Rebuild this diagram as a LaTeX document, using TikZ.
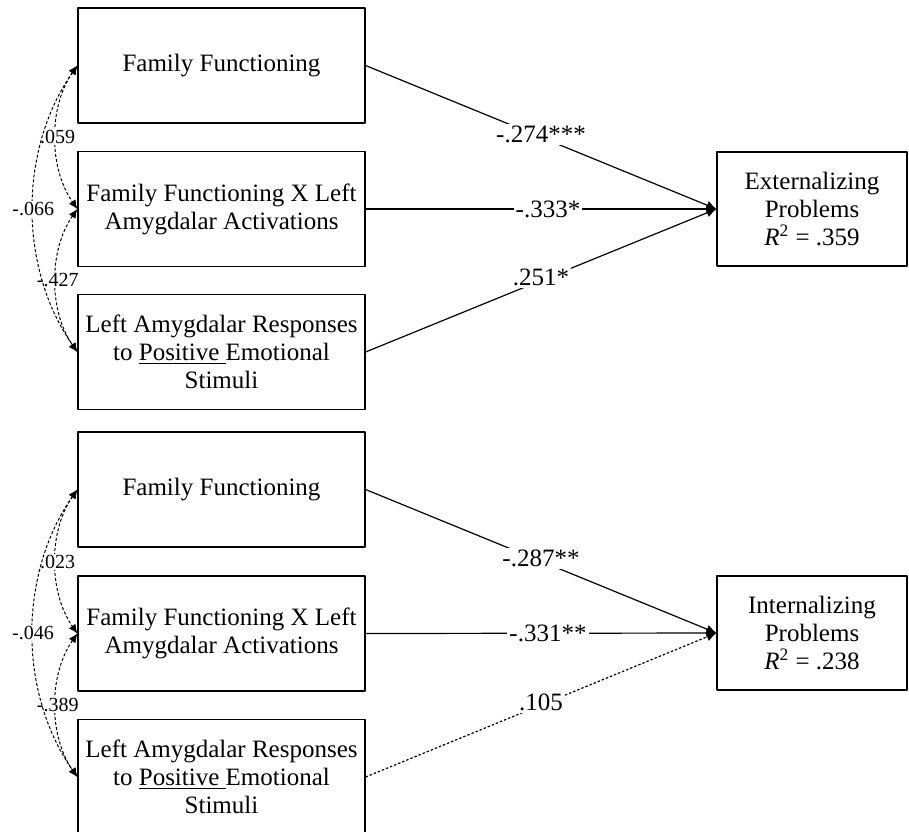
\documentclass[tikz,border=0pt]{standalone}
\usepackage{fontspec}
\setmainfont{Liberation Serif}
\usetikzlibrary{arrows.meta,positioning}

\begin{document}
\begin{tikzpicture}[x=0.5pt,y=0.5pt,line join=round,
  box/.style={draw,line width=0.6pt,minimum width=143.5pt,minimum height=57.5pt,
    align=center,inner sep=0pt,font=\fontsize{12.5}{14}\selectfont},
  dvbox/.style={box,minimum width=95pt,minimum height=57pt},
  pathline/.style={-{Latex[length=5pt,width=4.5pt]},line width=0.6pt},
  covline/.style={{Latex[length=4.5pt,width=4pt]}-{Latex[length=4.5pt,width=4pt]},
    line width=0.5pt,dash pattern=on 1.5pt off 1pt,out=235,in=125},
  coef/.style={fill=white,inner sep=1pt,font=\fontsize{12.5}{14}\selectfont},
  rcoef/.style={fill=white,inner sep=0.6pt,font=\fontsize{10}{11}\selectfont}]
\useasboundingbox (0,0) rectangle (909,-831);
% externalizing model
\node[box] (ff1) at (221.5,-65.5) {Family Functioning};
\node[box] (ffx1) at (221.5,-209) {Family Functioning X Left\\Amygdalar Activations};
\node[box] (lar1) at (221.5,-352) {Left Amygdalar Responses\\to \underline{Positive\ }Emotional\\Stimuli};
\node[dvbox] (ext) at (812,-209) {Externalizing\\Problems\\\textit{R}\textsuperscript{2} = .359};
\draw[pathline] (ff1.east) -- node[coef,pos=0.5,yshift=1.5pt] {-.274***} (ext.west);
\draw[pathline] (ffx1.east) -- node[coef,pos=0.52] {-.333*} (ext.west);
\draw[pathline] (lar1.east) -- node[coef,pos=0.5,yshift=1.5pt] {.251*} (ext.west);
\draw[covline,looseness=0.9] (ff1.west) to node[rcoef,xshift=1pt] {.059} (ffx1.west);
\draw[covline,looseness=0.9] (ffx1.west) to node[rcoef,xshift=1pt] {-.427} (lar1.west);
\draw[covline,looseness=0.92] (ff1.west) to node[rcoef] {-.066} (lar1.west);
% internalizing model
\node[box] (ff2) at (221.5,-489.5) {Family Functioning};
\node[box] (ffx2) at (221.5,-633.5) {Family Functioning X Left\\Amygdalar Activations};
\node[box] (lar2) at (221.5,-777) {Left Amygdalar Responses\\to \underline{Positive\ }Emotional\\Stimuli};
\node[dvbox] (int) at (812,-633) {Internalizing\\Problems\\\textit{R}\textsuperscript{2} = .238};
\draw[pathline] (ff2.east) -- node[coef,pos=0.5,yshift=1.5pt] {-.287**} (int.west);
\draw[pathline] (ffx2.east) -- node[coef,pos=0.52] {-.331**} (int.west);
\draw[pathline,dash pattern=on 1.2pt off 1pt] (lar2.east) -- node[coef,pos=0.5,yshift=1.5pt] {.105} (int.west);
\draw[covline,looseness=0.9] (ff2.west) to node[rcoef,xshift=1pt] {.023} (ffx2.west);
\draw[covline,looseness=0.9] (ffx2.west) to node[rcoef,xshift=1pt] {-.389} (lar2.west);
\draw[covline,looseness=0.92] (ff2.west) to node[rcoef] {-.046} (lar2.west);
\end{tikzpicture}
\end{document}
